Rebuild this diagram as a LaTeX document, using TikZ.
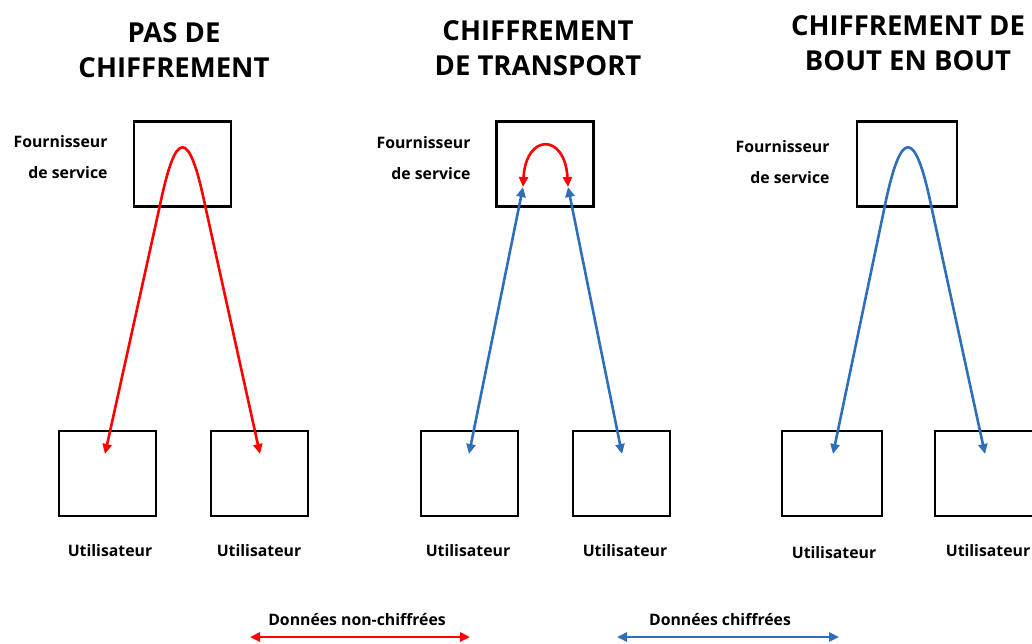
\documentclass[tikz,border=0pt]{standalone}
\usepackage{fontspec}
\setmainfont{Open Sans}
\usetikzlibrary{arrows.meta}
\definecolor{encblue}{RGB}{47,110,184}
\begin{document}
\begin{tikzpicture}[x=1pt, y=-1pt, box/.style={draw, line width=2.8pt, minimum width=97pt, minimum height=85pt, inner sep=0pt}, titre/.style={font=\bfseries\fontsize{27.5}{35}\selectfont, align=center}, lbl/.style={font=\bfseries\fontsize{15.8}{31}\selectfont}, four/.style={font=\bfseries\fontsize{15.8}{31}\selectfont, align=right, anchor=east}, clair/.style={red, line width=2.6pt, {Triangle[length=10pt, width=9pt]}-{Triangle[length=10pt, width=9pt]}}, chiffre/.style={encblue, line width=2.6pt, {Triangle[length=10pt, width=9pt]}-{Triangle[length=10pt, width=9pt]}}]
	\useasboundingbox (0,0) rectangle (1032,643);

		\node[titre] (t1) at (174,50) {PAS DE\\CHIFFREMENT};
		\node[titre] (t2) at (538,48) {CHIFFREMENT\\DE TRANSPORT};
		\node[titre] (t3) at (908,43) {CHIFFREMENT DE\\BOUT EN BOUT};

		\node[box] (f1) at (182.5,164) {};
		\node[box] (u11) at (107.5,473.5) {};
		\node[box] (u12) at (259.5,473.5) {};
		\node[box] (f2) at (545,164) {};
		\node[box] (u21) at (469.5,473.5) {};
		\node[box] (u22) at (621.5,473.5) {};
		\node[box, minimum width=100pt] (f3) at (907,164) {};
		\node[box, minimum width=100pt] (u31) at (832,473.5) {};
		\node[box, minimum width=100pt] (u32) at (985,473.5) {};

		\node[four] (s1) at (111,157) {Fournisseur\\de service};
		\node[four] (s2) at (474,158) {Fournisseur\\de service};
		\node[four] (s3) at (833,162) {Fournisseur\\de service};

		\node[lbl] (l11) at (110,551) {Utilisateur};
		\node[lbl] (l12) at (259,551) {Utilisateur};
		\node[lbl] (l21) at (468,551) {Utilisateur};
		\node[lbl] (l22) at (625,551) {Utilisateur};
		\node[lbl] (l31) at (834,553) {Utilisateur};
		\node[lbl] (l32) at (988,551) {Utilisateur};

		\coordinate (a11) at (105,454);
		\coordinate (a12) at (260,454);
		\coordinate (a21) at (469,454);
		\coordinate (a22) at (622,454);
		\coordinate (b21) at (523,187);
		\coordinate (b22) at (568,187);
		\coordinate (a31) at (833,454);
		\coordinate (a32) at (985,454);

		\draw[clair] (a11) -- (160,205) .. controls (176,128) and (189,128) .. (205,205) -- (a12);
		\draw[clair] (b21) .. controls (526,133) and (565,133) .. (b22);
		\draw[chiffre] (b21) -- (a21);
		\draw[chiffre] (b22) -- (a22);
		\draw[chiffre] (a31) -- (885,205) .. controls (901,128) and (915,128) .. (931,205) -- (a32);

		\node[lbl] (d1) at (357,620) {Données non-chiffrées};
		\node[lbl] (d2) at (720,620) {Données chiffrées};
		\coordinate (g1) at (250,637);
		\coordinate (g2) at (470,637);
		\coordinate (h1) at (617,637);
		\coordinate (h2) at (839,637);
		\draw[clair] (g1) -- (g2);
		\draw[chiffre] (h1) -- (h2);
	\end{tikzpicture}
\end{document}
